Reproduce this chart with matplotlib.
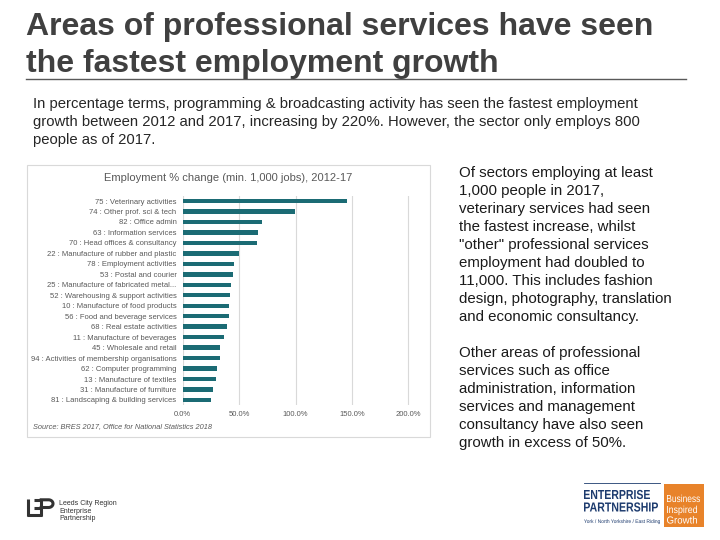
import matplotlib
matplotlib.use("Agg")
import matplotlib.pyplot as plt
import numpy as np
from matplotlib.patches import Rectangle, PathPatch
from matplotlib.lines import Line2D
from matplotlib.textpath import TextPath
from matplotlib.font_manager import FontProperties
from matplotlib.transforms import Affine2D

plt.rcParams['font.family'] = ['Liberation Sans', 'DejaVu Sans']

categories = [
    "75 : Veterinary activities",
    "74 : Other prof. sci & tech",
    "82 : Office admin",
    "63 : Information services",
    "70 : Head offices & consultancy",
    "22 : Manufacture of rubber and plastic",
    "78 : Employment activities",
    "53 : Postal and courier",
    "25 : Manufacture of fabricated metal...",
    "52 : Warehousing & support activities",
    "10 : Manufacture of food products",
    "56 : Food and beverage services",
    "68 : Real estate activities",
    "11 : Manufacture of beverages",
    "45 : Wholesale and retail",
    "94 : Activities of membership organisations",
    "62 : Computer programming",
    "13 : Manufacture of textiles",
    "31 : Manufacture of furniture",
    "81 : Landscaping & building services",
]
pct_change = [145.6, 99.7, 70.6, 66.5, 65.6, 49.7, 45.9, 44.7, 42.6, 41.5,
              40.9, 40.9, 39.7, 36.2, 33.5, 32.9, 30.6, 29.1, 26.5, 25.3]
x_ticks = [0, 50, 100, 150, 200]
x_tick_labels = ["0.0%", "50.0%", "100.0%", "150.0%", "200.0%"]

W, H = 720, 540
fig = plt.figure(figsize=(7.2, 5.4), dpi=100)
fig.patch.set_facecolor("white")


def fx(x):
    return x / W


def fy(y):
    return 1 - y / H


def fit_text(s, x0, y_base, width, cap, color, weight="bold",
             family="Liberation Sans"):
    """Draw text as a path scaled to a given pixel width and cap height."""
    fp = FontProperties(family=family, weight=weight)
    tp = TextPath((0, 0), s, size=10, prop=fp)
    bb = tp.get_extents()
    hb = TextPath((0, 0), "H", size=10, prop=fp).get_extents()
    sx = width / bb.width
    sy = cap / hb.height
    tr = (Affine2D().translate(-bb.x0, 0).scale(sx, sy)
          .translate(x0, H - y_base).scale(1 / W, 1 / H))
    path = tr.transform_path(tp)
    fig.add_artist(PathPatch(path, transform=fig.transFigure, facecolor=color,
                             edgecolor="none", lw=0))


# Title
fig.text(fx(26), fy(35), "Areas of professional services have seen", fontsize=23,
         fontweight="bold", color="#404040", va="baseline", ha="left")
fig.text(fx(26), fy(72), "the fastest employment growth", fontsize=23,
         fontweight="bold", color="#404040", va="baseline", ha="left")
fig.add_artist(Line2D([fx(26), fx(686)], [fy(79), fy(79)], color="#595959", lw=1.0))

# Intro paragraph
intro = [
    "In percentage terms, programming & broadcasting activity has seen the fastest employment",
    "growth between 2012 and 2017, increasing by 220%. However, the sector only employs 800",
    "people as of 2017.",
]
for i, line in enumerate(intro):
    fig.text(fx(33), fy(108 + 18 * i), line, fontsize=10.7, color="#262626",
             va="baseline", ha="left")

# Right side text
para1 = [
    "Of sectors employing at least",
    "1,000 people in 2017,",
    "veterinary services had seen",
    "the fastest increase, whilst",
    "\"other\" professional services",
    "employment had doubled to",
    "11,000. This includes fashion",
    "design, photography, translation",
    "and economic consultancy.",
]
for i, line in enumerate(para1):
    fig.text(fx(459), fy(177 + 18 * i), line, fontsize=10.8, color="#1a1a1a",
             va="baseline", ha="left")
para2 = [
    "Other areas of professional",
    "services such as office",
    "administration, information",
    "services and management",
    "consultancy have also seen",
    "growth in excess of 50%.",
]
for i, line in enumerate(para2):
    fig.text(fx(459), fy(357 + 18 * i), line, fontsize=10.8, color="#1a1a1a",
             va="baseline", ha="left")

# Chart box
fig.add_artist(Rectangle((fx(27), fy(437)), fx(430) - fx(27), fy(165) - fy(437),
                         transform=fig.transFigure, facecolor="white",
                         edgecolor="#d9d9d9", lw=0.8, zorder=-2))
fig.text(fx(228), fy(178), "Employment % change (min. 1,000 jobs), 2012-17",
         fontsize=8, color="#595959", ha="center", va="center")

ax_left, ax_right = 182.7, 419.6
ax_top, ax_bot = 195.8, 405.2
ax = fig.add_axes([fx(ax_left), fy(ax_bot), fx(ax_right) - fx(ax_left),
                   fy(ax_top) - fy(ax_bot)])
ax.set_zorder(2)
n = len(categories)
ypos = list(range(n))
ax.barh(ypos, pct_change, height=0.42, color="#1b6b74", zorder=3)
ax.set_ylim(n - 0.5, -0.5)
ax.set_xlim(0, 210)
ax.set_xticks(x_ticks)
ax.set_xticklabels(x_tick_labels)
ax.set_yticks(ypos)
ax.set_yticklabels(categories)
ax.tick_params(axis="both", length=0, labelsize=5.5, labelcolor="#595959")
ax.tick_params(axis="y", pad=4.5)
ax.tick_params(axis="x", pad=4)
ax.grid(axis="x", color="#d9d9d9", lw=0.8, zorder=0)
for s in ax.spines.values():
    s.set_visible(False)
ax.set_facecolor("none")

fig.text(fx(33), fy(427), "Source: BRES 2017, Office for National Statistics 2018",
         fontsize=5.3, style="italic", color="#595959", ha="left", va="center")

# Left logo (LEP mark drawn with strokes)
logo_c = "#333333"
lw_logo = 2.2
for (x0, y0, x1, y1) in [
    (27.5, 499, 27.5, 516),    # L vertical
    (26.5, 515.2, 42, 515.2),  # L bottom
    (41.2, 499, 41.2, 516),    # shared E / P spine
    (34, 499.8, 41.2, 499.8),  # E top arm
    (34, 507.5, 41.2, 507.5),  # E middle arm
]:
    fig.add_artist(Line2D([fx(x0), fx(x1)], [fy(y0), fy(y1)], color=logo_c,
                          lw=lw_logo, solid_capstyle="butt"))
# P bowl
theta = np.linspace(np.pi / 2, -np.pi / 2, 30)
bx = np.concatenate([[41.2], 48.5 + 4.5 * np.cos(theta), [41.2]])
by = np.concatenate([[499.8], 503.65 - 3.85 * np.sin(theta), [507.5]])
fig.add_artist(Line2D([fx(v) for v in bx], [fy(v) for v in by], color=logo_c,
                      lw=lw_logo))

for i, line in enumerate(["Leeds City Region", "Enterprise", "Partnership"]):
    fig.text(fx(59), fy(505 + 7.7 * i), line, fontsize=5, color="#333333",
             ha="left", va="baseline")

# Right logo
navy = "#1d3b6e"
fig.add_artist(Line2D([fx(584), fx(660)], [fy(483), fy(483)], color=navy, lw=0.6))
fit_text("ENTERPRISE", 584, 499, 66, 9, navy)
fit_text("PARTNERSHIP", 584, 511.5, 74, 9, navy)
fit_text("York / North Yorkshire / East Riding", 584, 523, 76, 3.6, navy,
         weight="normal")
fig.add_artist(Rectangle((fx(664), fy(527)), fx(704) - fx(664), fy(484) - fy(527),
                         transform=fig.transFigure, facecolor="#e8832a",
                         edgecolor="none"))
fit_text("Business", 667, 502, 33, 7, "white", weight="normal")
fit_text("Inspired", 667, 513, 30, 7, "white", weight="normal")
fit_text("Growth", 667, 523.5, 30, 7, "white", weight="normal")

fig.savefig("out.png", dpi=100, facecolor="white")
